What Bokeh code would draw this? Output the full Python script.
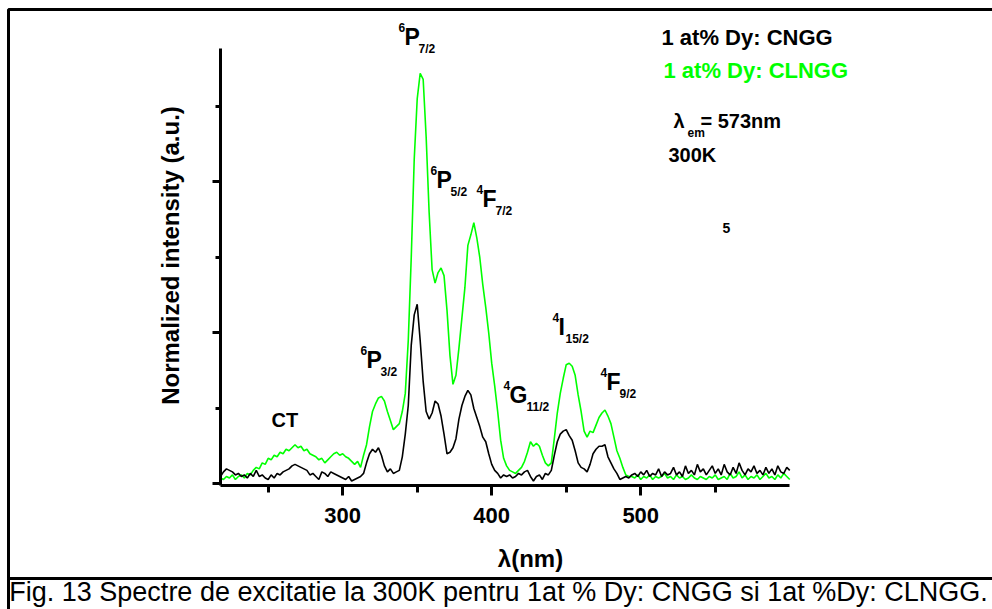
import numpy as np
from bokeh.plotting import figure
from bokeh.models import (Label, BoxAnnotation, SingleIntervalTicker, FixedTicker,
                          LinearAxis, ColumnDataSource, Range1d)
from bokeh.embed import file_html
from bokeh.resources import INLINE

# excitation wavelength grid (nm)
wavelength = np.arange(218, 601, 2)

# 1 at% Dy: CLNGG, normalized intensity
clngg = [
    0.04, 0.03, 0.05, 0.04, 0.06, 0.03, 0.05, 0.06, 0.04, 0.07,
    0.06, 0.09, 0.11, 0.10, 0.14, 0.13, 0.17, 0.16, 0.19, 0.18,
    0.21, 0.20, 0.23, 0.22, 0.24, 0.26, 0.24, 0.25, 0.22, 0.23,
    0.20, 0.19, 0.18, 0.16, 0.17, 0.14, 0.16, 0.18, 0.20, 0.21,
    0.19, 0.20, 0.18, 0.17, 0.15, 0.13, 0.15, 0.11, 0.19, 0.26,
    0.38, 0.48, 0.53, 0.57, 0.58, 0.55, 0.48, 0.42, 0.36, 0.38,
    0.40, 0.48, 0.60, 0.95, 1.50, 2.15, 2.55, 2.72, 2.68, 2.30,
    1.80, 1.42, 1.33, 1.40, 1.43, 1.38, 1.15, 0.85, 0.66, 0.72,
    0.90, 1.10, 1.30, 1.58, 1.65, 1.73, 1.63, 1.50, 1.32, 1.17,
    1.00, 0.80, 0.65, 0.48, 0.29, 0.17, 0.12, 0.09, 0.08, 0.07,
    0.09, 0.11, 0.15, 0.21, 0.28, 0.25, 0.27, 0.25, 0.19, 0.14,
    0.12, 0.14, 0.30, 0.47, 0.60, 0.70, 0.79, 0.80, 0.78, 0.72,
    0.59, 0.48, 0.35, 0.31, 0.35, 0.34, 0.39, 0.44, 0.47, 0.49,
    0.45, 0.40, 0.31, 0.22, 0.17, 0.11, 0.06, 0.05, 0.05, 0.04,
    0.06, 0.03, 0.05, 0.04, 0.06, 0.03, 0.05, 0.04, 0.05, 0.07,
    0.04, 0.05, 0.03, 0.06, 0.04, 0.05, 0.03, 0.04, 0.06, 0.04,
    0.03, 0.05, 0.04, 0.03, 0.05, 0.04, 0.06, 0.03, 0.04, 0.05,
    0.03, 0.07, 0.04, 0.05, 0.08, 0.04, 0.06, 0.03, 0.05, 0.04,
    0.06, 0.03, 0.05, 0.07, 0.04, 0.05, 0.03, 0.06, 0.04, 0.07,
    0.05, 0.03,
]

# 1 at% Dy: CNGG, normalized intensity
cngg = [
    0.05, 0.08, 0.10, 0.09, 0.08, 0.06, 0.07, 0.05, 0.06, 0.04,
    0.07, 0.05, 0.09, 0.05, 0.06, 0.04, 0.03, 0.06, 0.04, 0.07,
    0.06, 0.08, 0.09, 0.10, 0.12, 0.13, 0.12, 0.11, 0.10, 0.09,
    0.06, 0.07, 0.05, 0.03, 0.08, 0.07, 0.05, 0.08, 0.07, 0.06,
    0.05, 0.04, 0.03, 0.05, 0.02, 0.03, 0.04, 0.05, 0.07, 0.14,
    0.20, 0.23, 0.21, 0.24, 0.19, 0.12, 0.08, 0.10, 0.07, 0.08,
    0.09, 0.18, 0.33, 0.52, 0.92, 1.12, 1.19, 0.95, 0.68, 0.48,
    0.43, 0.47, 0.55, 0.53, 0.45, 0.33, 0.20, 0.21, 0.24, 0.30,
    0.43, 0.52, 0.58, 0.62, 0.59, 0.50, 0.44, 0.38, 0.31, 0.28,
    0.20, 0.13, 0.09, 0.07, 0.04, 0.06, 0.05, 0.06, 0.04, 0.05,
    0.07, 0.06, 0.08, 0.09, 0.05, 0.02, 0.05, 0.06, 0.03, 0.07,
    0.06, 0.09, 0.19, 0.28, 0.33, 0.35, 0.36, 0.32, 0.29, 0.22,
    0.14, 0.11, 0.10, 0.08, 0.13, 0.20, 0.23, 0.25, 0.25, 0.26,
    0.18, 0.14, 0.10, 0.07, 0.03, 0.04, 0.05, 0.04, 0.06, 0.07,
    0.05, 0.08, 0.06, 0.09, 0.05, 0.07, 0.06, 0.10, 0.05, 0.08,
    0.06, 0.07, 0.11, 0.06, 0.08, 0.05, 0.12, 0.07, 0.09, 0.06,
    0.13, 0.08, 0.10, 0.06, 0.09, 0.12, 0.07, 0.10, 0.06, 0.13,
    0.08, 0.06, 0.11, 0.07, 0.14, 0.09, 0.06, 0.10, 0.08, 0.12,
    0.07, 0.09, 0.06, 0.11, 0.07, 0.10, 0.06, 0.12, 0.08, 0.07,
    0.11, 0.09,
]

series_names = ["1 at% Dy: CNGG", "1 at% Dy: CLNGG"]
GREEN = "#00ff00"
FONT = "Liberation Sans"

# axis extents (data) and where they sit on the page (px)
X0, X1 = 218.0, 600.5
Y0, Y1 = -0.01, 2.884
LEFT, RIGHT, TOP, BOTTOM = 220, 790, 48, 485
W, H = 992, 609

sx = (RIGHT - LEFT) / (X1 - X0)
sy = (BOTTOM - TOP) / (Y1 - Y0)


def dx(px):
    return X0 + (px - LEFT) / sx


def dy(py):
    return Y0 + (BOTTOM - py) / sy


# the plotting frame covers the whole page; the axes are pinned inside it
p = figure(width=W, height=H,
           x_range=Range1d(dx(0), dx(W)), y_range=Range1d(dy(H), dy(0)),
           output_backend="svg", toolbar_location=None, min_border=0)
p.title.visible = False
p.grid.visible = False
p.outline_line_color = None
p.background_fill_color = "white"
p.border_fill_color = "white"

src = ColumnDataSource(dict(wl=wavelength, cngg=cngg, clngg=clngg))
p.line("wl", "clngg", source=src, line_color=GREEN, line_width=1.6)
p.line("wl", "cngg", source=src, line_color="black", line_width=1.6)


def style_axis(ax):
    ax.axis_line_width = 3
    ax.major_tick_line_width = 3
    ax.minor_tick_line_width = 3
    ax.major_tick_in = 0
    ax.minor_tick_in = 0
    ax.axis_label_text_font = FONT
    ax.axis_label_text_font_style = "bold"
    ax.axis_label_text_font_size = "24px"
    ax.axis_label_text_color = "black"
    ax.major_label_text_font = FONT
    ax.major_label_text_font_style = "bold"
    ax.major_label_text_font_size = "22px"
    ax.major_label_text_color = "black"


# tick-bearing axes
xa = p.xaxis[0]
style_axis(xa)
xa.fixed_location = Y0
xa.bounds = (X0, 599.9)
xa.ticker = SingleIntervalTicker(interval=100, num_minor_ticks=2)
xa.major_tick_out = 10
xa.minor_tick_out = 7
xa.major_label_standoff = 12

ya = p.yaxis[0]
style_axis(ya)
ya.fixed_location = X0
ya.bounds = (Y0, Y1)
ya.ticker = SingleIntervalTicker(interval=1, num_minor_ticks=2)
ya.major_tick_out = 8
ya.minor_tick_out = 5
ya.major_label_overrides = {0: "", 1: "", 2: ""}

# axis titles, each centred on its own span
x_title = LinearAxis(axis_label="λ(nm)", fixed_location=Y0,
                     bounds=(dx(270), dx(790)), ticker=FixedTicker(ticks=[]))
style_axis(x_title)
x_title.axis_line_color = None
x_title.major_tick_out = 0
x_title.major_label_standoff = 0
x_title.axis_label_standoff = 59
p.add_layout(x_title, "below")

y_title = LinearAxis(axis_label="Normalized intensity (a.u.)", fixed_location=X0,
                     bounds=(dy(462), dy(48)), ticker=FixedTicker(ticks=[]))
style_axis(y_title)
y_title.axis_line_color = None
y_title.major_tick_out = 0
y_title.major_label_standoff = 0
y_title.axis_label_standoff = 37
p.add_layout(y_title, "left")


def put(text, px, base, size, color="black", style="bold", align="left"):
    # base is the baseline on the page; the renderer sits text a bit low
    p.add_layout(Label(x=dx(px), y=dy(base - 0.38 * size), text=text,
                       text_font=FONT, text_font_style=style,
                       text_font_size=f"{size}px", text_color=color,
                       text_align=align, text_baseline="alphabetic"))


# spectroscopic term labels: (superscript, letter, subscript, x, baseline)
terms = [
    ("6", "P", "7/2", 398, 45),
    ("6", "P", "5/2", 430, 188),
    ("4", "F", "7/2", 476, 207),
    ("6", "P", "3/2", 360, 368),
    ("4", "G", "11/2", 503, 403),
    ("4", "I", "15/2", 552, 335),
    ("4", "F", "9/2", 600, 390),
]
letter_w = {"P": 14, "F": 13, "G": 17, "I": 7}
for sup, letter, sub, px, base in terms:
    put(sup, px, base - 13, 12)
    put(letter, px + 6, base, 23)
    put(sub, px + 6 + letter_w[letter], base + 8, 12)

put("CT", 271, 427, 20)

put(series_names[0], 661, 45, 22)
put(series_names[1], 663, 78, 22, color=GREEN)
put("λ", 673, 128, 20)
put("em", 687, 137, 12)
put("= 573nm", 700, 128, 20)
put("300K", 668, 162, 20)
put("5", 722, 233, 14)

put("Fig. 13 Spectre de excitatie la 300K pentru 1at % Dy: CNGG si 1at %Dy: CLNGG.",
    498, 602, 27, style="normal", align="center")

# page frame lines
for top, bottom in ((9, 578), (578, 640)):
    p.add_layout(BoxAnnotation(left=dx(8), right=dx(1100), top=dy(top),
                               bottom=dy(bottom), fill_alpha=0,
                               line_color="black", line_alpha=1, line_width=3))

open("out.html", "w").write(file_html(p, INLINE))
